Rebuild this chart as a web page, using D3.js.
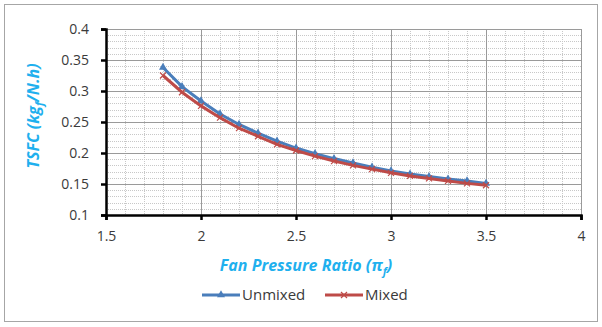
<!DOCTYPE html>
<html>
<head>
<meta charset="utf-8">
<script src="https://cdn.jsdelivr.net/npm/d3@7"></script>
<style>
  body { margin: 0; background: #fff; }
  text { font-family: "Open Sans", "Liberation Sans", sans-serif; }
</style>
</head>
<body>
<svg id="chart" width="602" height="327"></svg>
<script>
const fpr = [1.8, 1.9, 2.0, 2.1, 2.2, 2.3, 2.4, 2.5, 2.6, 2.7, 2.8, 2.9, 3.0, 3.1, 3.2, 3.3, 3.4, 3.5]
const unmixed = [0.338, 0.307, 0.284, 0.263, 0.246, 0.232, 0.219, 0.208, 0.199, 0.191, 0.184, 0.177, 0.171, 0.166, 0.162, 0.158, 0.155, 0.151]
const mixed = [0.325, 0.298, 0.276, 0.257, 0.240, 0.227, 0.214, 0.204, 0.195, 0.187, 0.180, 0.174, 0.168, 0.163, 0.159, 0.155, 0.151, 0.148]
const xTicks = [1.5, 2, 2.5, 3, 3.5, 4]
const yTicks = [0.1, 0.15, 0.2, 0.25, 0.3, 0.35, 0.4]
const seriesNames = ['Unmixed', 'Mixed']

const svg = d3.select('#chart')
const blue = '#4a7ebb'
const red = '#be4b48'
const titleColor = '#1fb0ee'

svg.append('rect')
    .attr('x', 4.5).attr('y', 4.5)
    .attr('width', 593).attr('height', 317)
    .attr('fill', 'none').attr('stroke', '#a6a6a6')

const x = d3.scaleLinear().domain([1.5, 4]).range([106, 581])
const y = d3.scaleLinear().domain([0.1, 0.4]).range([215, 29])

// minor grid
const grid = svg.append('g')
d3.range(1.5, 4.0001, 0.1).forEach(v => {
    grid.append('line')
        .attr('x1', Math.round(x(v)) + 0.5).attr('x2', Math.round(x(v)) + 0.5)
        .attr('y1', y(0.4)).attr('y2', y(0.1))
        .attr('stroke', '#c8c8c8').attr('stroke-dasharray', '1,1')
})
d3.range(0.1, 0.4001, 0.01).forEach(v => {
    grid.append('line')
        .attr('y1', Math.round(y(v)) + 0.5).attr('y2', Math.round(y(v)) + 0.5)
        .attr('x1', x(1.5)).attr('x2', x(4))
        .attr('stroke', '#c8c8c8').attr('stroke-dasharray', '1,1')
})
// major grid
xTicks.forEach(v => {
    grid.append('line')
        .attr('x1', Math.round(x(v)) + 0.5).attr('x2', Math.round(x(v)) + 0.5)
        .attr('y1', y(0.4)).attr('y2', y(0.1))
        .attr('stroke', '#9a9a9a')
})
yTicks.forEach(v => {
    grid.append('line')
        .attr('y1', Math.round(y(v)) + 0.5).attr('y2', Math.round(y(v)) + 0.5)
        .attr('x1', x(1.5)).attr('x2', x(4))
        .attr('stroke', '#9a9a9a')
})

// axes
const xg = svg.append('g').attr('transform', `translate(0,${y(0.1)})`)
    .call(d3.axisBottom(x).tickValues(xTicks).tickSize(5).tickPadding(11).tickFormat(d3.format('')))
const yg = svg.append('g').attr('transform', `translate(${x(1.5)},0)`)
    .call(d3.axisLeft(y).tickValues(yTicks).tickSize(5).tickPadding(12).tickFormat(d => d3.format('')(+d.toFixed(2))))
;[xg, yg].forEach(g => {
    g.select('.domain').attr('stroke', '#000').attr('stroke-width', 2.5)
    g.selectAll('.tick line').attr('stroke', '#000').attr('stroke-width', 2.5)
    g.selectAll('.tick text').attr('fill', '#3a3a3a').style('font-size', '14px')
})

// lines
const line = d3.line().x(d => x(d[0])).y(d => y(d[1]))
const uData = fpr.map((v, i) => [v, unmixed[i]])
const mData = fpr.map((v, i) => [v, mixed[i]])

const tri = d3.symbol().type(d3.symbolTriangle).size(28)

svg.append('path').datum(uData).attr('d', line)
    .attr('fill', 'none').attr('stroke', blue).attr('stroke-width', 3)
svg.append('g').selectAll('path').data(uData).join('path')
    .attr('transform', d => `translate(${x(d[0])},${y(d[1])})`)
    .attr('d', tri).attr('fill', blue)

svg.append('path').datum(mData).attr('d', line)
    .attr('fill', 'none').attr('stroke', red).attr('stroke-width', 3)
svg.append('g').selectAll('path').data(mData).join('path')
    .attr('transform', d => `translate(${x(d[0])},${y(d[1])})`)
    .attr('d', 'M-3,-3L3,3M-3,3L3,-3')
    .attr('stroke', red).attr('stroke-width', 1.2)

// axis titles
const xt = svg.append('text')
    .attr('x', 306).attr('y', 271)
    .attr('text-anchor', 'middle')
    .attr('fill', titleColor)
    .style('font-size', '16px').style('font-weight', 'bold').style('font-style', 'italic')
xt.append('tspan').text('Fan Pressure Ratio (π')
xt.append('tspan').attr('dy', 4).style('font-size', '11px').text('f')
xt.append('tspan').attr('dy', -4).text(')')

const yt = svg.append('text')
    .attr('transform', `translate(39,116) rotate(-90)`)
    .attr('text-anchor', 'middle')
    .attr('fill', titleColor)
    .style('font-size', '16px').style('font-weight', 'bold').style('font-style', 'italic')
yt.append('tspan').text('TSFC (kg')
yt.append('tspan').attr('dy', 4).style('font-size', '11px').text('f')
yt.append('tspan').attr('dy', -4).text('/N.h)')

// legend
const legend = svg.append('g')
const items = [
    { name: seriesNames[0], color: blue, x0: 202 },
    { name: seriesNames[1], color: red, x0: 325 }
]
items.forEach((it, i) => {
    const ly = 295
    legend.append('line')
        .attr('x1', it.x0).attr('x2', it.x0 + 38).attr('y1', ly).attr('y2', ly)
        .attr('stroke', it.color).attr('stroke-width', 3)
    if (i === 0) {
        legend.append('path').attr('transform', `translate(${it.x0 + 19},${ly})`)
            .attr('d', tri).attr('fill', it.color)
    } else {
        legend.append('path').attr('transform', `translate(${it.x0 + 19},${ly})`)
            .attr('d', 'M-3,-3L3,3M-3,3L3,-3').attr('stroke', it.color).attr('stroke-width', 1.2)
    }
    legend.append('text')
        .attr('x', it.x0 + 40).attr('y', ly + 5)
        .attr('fill', '#3a3a3a').style('font-size', '15px')
        .text(it.name)
})
</script>
</body>
</html>
